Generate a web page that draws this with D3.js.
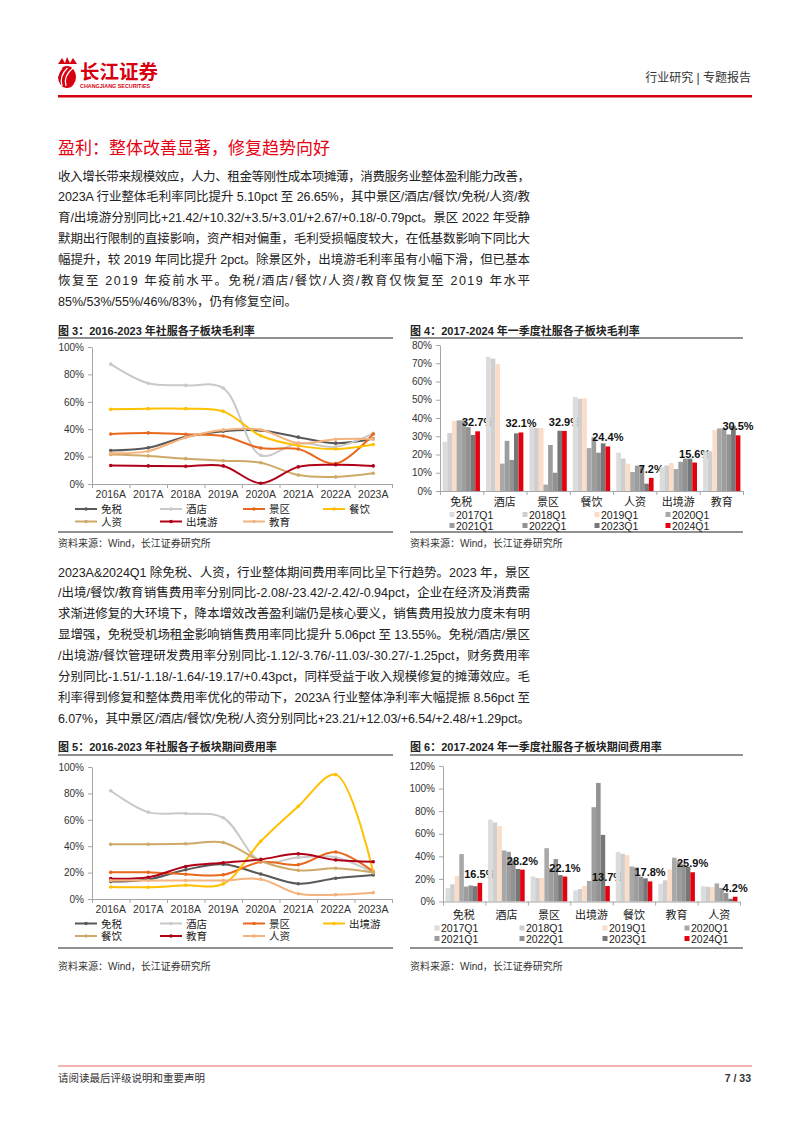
<!DOCTYPE html>
<html><head><meta charset="utf-8">
<script src="https://cdn.jsdelivr.net/npm/d3@7"></script>
<style>
body{margin:0;background:#fff;}
svg{display:block;font-family:"Liberation Sans",Arial,"Noto Sans CJK SC",sans-serif;}
</style></head><body>
<script>
// ---------- DATA ----------
const years = ["2016A","2017A","2018A","2019A","2020A","2021A","2022A","2023A"];

// Fig 3: gross margin (%)
const gmSeriesNames = ["免税","酒店","景区","餐饮","人资","出境游","教育"];
const gmDutyFree = [24.5,26.5,34.5,38.5,39.0,34.2,29.8,33.0];
const gmHotel    = [87.5,73.5,72.0,70.0,21.0,29.8,27.2,37.0];
const gmScenic   = [36.5,37.3,36.3,35.0,26.2,25.5,14.9,36.5];
const gmCatering = [54.5,55.0,55.0,53.0,35.2,28.0,25.5,28.8];
const gmHR       = [21.5,20.5,18.5,17.0,15.5,6.5,5.2,7.8];
const gmOutbound = [13.5,13.2,13.0,13.2,0.5,12.5,14.0,13.2];
const gmEdu      = [22.5,24.0,34.0,39.5,39.6,29.8,32.7,32.9];

// Fig 5: period expense ratio (%)
const exSeriesNames = ["免税","酒店","景区","出境游","餐饮","教育","人资"];
const exDutyFree = [13.2,14.8,22.2,26.3,18.9,11.6,15.7,18.2];
const exHotel    = [82.0,65.8,64.8,61.5,28.5,31.5,31.5,20.0];
const exScenic   = [20.2,20.2,18.7,18.3,28.0,26.0,35.6,20.8];
const exOutbound = [9.1,8.9,10.4,11.4,43.7,70.2,94.2,20.2];
const exCatering = [41.5,41.5,41.8,42.8,28.8,21.7,23.3,20.0];
const exEdu      = [15.4,16.4,24.6,27.5,30.0,34.2,29.5,28.2];
const exHR       = [14.0,14.0,14.0,14.0,15.0,4.0,3.3,4.8];

// Fig 4: Q1 gross margin (%)
const quarters = ["2017Q1","2018Q1","2019Q1","2020Q1","2021Q1","2022Q1","2023Q1","2024Q1"];
const gmQCats = ["免税","酒店","景区","餐饮","人资","出境游","教育"];
const gmQ17 = [27.0,73.5,35.0,51.5,21.0,13.0,21.5];
const gmQ18 = [31.8,72.5,34.5,50.5,17.8,14.0,21.8];
const gmQ19 = [38.3,69.5,34.5,50.8,15.0,15.3,33.5];
const gmQ20 = [38.7,15.0,3.5,23.5,10.4,12.0,34.3];
const gmQ21 = [38.7,27.5,25.2,29.5,13.9,16.0,34.3];
const gmQ22 = [35.0,17.0,10.0,21.0,13.9,17.7,31.0];
const gmQ23 = [30.7,31.6,33.0,26.1,4.0,17.7,35.8];
const gmQ24 = [32.7,32.1,32.9,24.4,7.2,15.6,30.5];

// Fig 6: Q1 period expense ratio (%)
const exQCats = ["免税","酒店","景区","出境游","餐饮","教育","人资"];
const exQ17 = [11.8,72.5,22.3,9.8,43.8,15.7,13.6];
const exQ18 = [15.2,70.0,20.8,11.0,42.2,18.8,13.0];
const exQ19 = [22.5,66.8,20.8,13.8,41.2,28.4,12.8];
const exQ20 = [42.0,45.2,47.2,18.2,31.0,38.8,16.0];
const exQ21 = [13.2,44.0,29.5,83.5,30.2,35.5,12.0];
const exQ22 = [14.2,36.5,37.6,105.0,22.0,33.0,7.6];
const exQ23 = [13.5,28.8,23.4,59.0,20.5,30.8,2.4];
const exQ24 = [16.5,28.2,22.1,13.7,17.8,25.9,4.2];

// ---------- STYLE ----------
const lineColors = ["#595959","#c9c9c9","#e8681e","#ffc000","#cfa968","#b00018","#f5b27c"];
const barColors  = ["#dcdcdc","#cfcfcf","#fbdcc6","#a8a8a8","#9d9d9d","#929292","#777777","#e3000f"];
const RED = "#e60012";
const TXT = "#222";

const svg = d3.select("body").append("svg").attr("width",802).attr("height",1133);

// ---------- HEADER ----------
const logo = svg.append("g");
logo.append("ellipse").attr("cx",67).attr("cy",77).attr("rx",9).attr("ry",11).attr("fill","#d7000f");
[[-5,2],[-1,5],[3,8]].forEach(([dx,r])=>{
  logo.append("path").attr("d",`M${63+dx},${86} Q${60+dx},${76} ${66+dx+r/2},${68}`)
    .attr("fill","none").attr("stroke","#fff").attr("stroke-width",1.3);
});
logo.append("path").attr("d","M58,64 L62,58 L65,63 L67,57 L70,63 L73,58 L77,64 Z").attr("fill","#d7000f");
logo.append("text").attr("x",80).attr("y",79).attr("font-size",19.5).attr("font-weight","bold")
  .attr("fill","#d7000f").attr("font-family","Noto Sans CJK SC").text("长江证券");
logo.append("text").attr("x",80).attr("y",88).attr("font-size",5.4).attr("font-weight","bold")
  .attr("fill","#d7000f").text("CHANGJIANG SECURITIES");
svg.append("text").attr("x",751).attr("y",82).attr("text-anchor","end").attr("font-size",12)
  .attr("fill","#333").text("行业研究 | 专题报告");
svg.append("rect").attr("x",58).attr("y",95).attr("width",694).attr("height",2.5).attr("fill","#d7000f");

// ---------- TEXT ----------
svg.append("text").attr("x",58).attr("y",154).attr("font-size",17).attr("fill",RED)
  .text("盈利：整体改善显著，修复趋势向好");

function para(lines, y0, lastFull){
  lines.forEach((t,i)=>{
    const el = svg.append("text").attr("x",58).attr("y",y0+i*20.9).attr("font-size",12.5).attr("fill",TXT).text(t);
    if(i<lines.length-1 || lastFull) el.attr("textLength",472).attr("lengthAdjust","spacing");
  });
}
para([
 "收入增长带来规模效应，人力、租金等刚性成本项摊薄，消费服务业整体盈利能力改善，",
 "2023A 行业整体毛利率同比提升 5.10pct 至 26.65%，其中景区/酒店/餐饮/免税/人资/教",
 "育/出境游分别同比+21.42/+10.32/+3.5/+3.01/+2.67/+0.18/-0.79pct。景区 2022 年受静",
 "默期出行限制的直接影响，资产相对偏重，毛利受损幅度较大，在低基数影响下同比大",
 "幅提升，较 2019 年同比提升 2pct。除景区外，出境游毛利率虽有小幅下滑，但已基本",
 "恢复至 2019 年疫前水平。免税/酒店/餐饮/人资/教育仅恢复至 2019 年水平",
 "85%/53%/55%/46%/83%，仍有修复空间。"
],180.5,false);
para([
 "2023A&2024Q1 除免税、人资，行业整体期间费用率同比呈下行趋势。2023 年，景区",
 "/出境/餐饮/教育销售费用率分别同比-2.08/-23.42/-2.42/-0.94pct，企业在经济及消费需",
 "求渐进修复的大环境下，降本增效改善盈利端仍是核心要义，销售费用投放力度未有明",
 "显增强，免税受机场租金影响销售费用率同比提升 5.06pct 至 13.55%。免税/酒店/景区",
 "/出境游/餐饮管理研发费用率分别同比-1.12/-3.76/-11.03/-30.27/-1.25pct，财务费用率",
 "分别同比-1.51/-1.18/-1.64/-19.17/+0.43pct，同样受益于收入规模修复的摊薄效应。毛",
 "利率得到修复和整体费用率优化的带动下，2023A 行业整体净利率大幅提振 8.56pct 至",
 "6.07%，其中景区/酒店/餐饮/免税/人资分别同比+23.21/+12.03/+6.54/+2.48/+1.29pct。"
],576.5,true);

// ---------- FIGURE FRAMES ----------
function frame(x0,x1,title,yTitle,yLine,yBottom,ySrc){
  svg.append("text").attr("x",x0).attr("y",yTitle).attr("font-size",11).attr("font-weight","bold")
    .attr("fill",TXT).text(title);
  svg.append("line").attr("x1",x0).attr("x2",x1).attr("y1",yLine).attr("y2",yLine).attr("stroke","#6b6b6b").attr("stroke-width",1.3);
  svg.append("line").attr("x1",x0).attr("x2",x1).attr("y1",yBottom).attr("y2",yBottom).attr("stroke","#6b6b6b").attr("stroke-width",1.3);
  svg.append("text").attr("x",x0).attr("y",ySrc).attr("font-size",10).attr("fill","#333").text("资料来源：Wind，长江证券研究所");
}
frame(58,393,"图 3：2016-2023 年社服各子板块毛利率",335,338,532,547);
frame(410,743,"图 4：2017-2024 年一季度社服各子板块毛利率",335,338,532,547);
frame(58,393,"图 5：2016-2023 年社服各子板块期间费用率",751,755,948,970);
frame(410,743,"图 6：2017-2024 年一季度社服各子板块期间费用率",751,755,948,970);

function styleAxis(a){
  a.attr("font-family",null).attr("font-size",null);
  a.selectAll(".domain,.tick line").attr("stroke","#a6a6a6");
  a.selectAll("text").attr("fill","#333").attr("font-size",10);
}

// ---------- LINE CHART ----------
function lineChart(cfg){
  const g = svg.append("g");
  const x = d3.scaleBand().domain(cfg.cats).range([cfg.x0,cfg.x1]);
  const y = d3.scaleLinear().domain([0,cfg.max]).range([cfg.yb,cfg.yt]);
  g.append("g").attr("transform",`translate(${cfg.x0},0)`)
    .call(d3.axisLeft(y).tickValues(d3.range(0,cfg.max+0.1,cfg.step)).tickFormat(d=>d+"%").tickSize(4).tickSizeOuter(0).tickPadding(4))
    .call(styleAxis);
  const xb = d3.scaleLinear().domain([0,cfg.cats.length]).range([cfg.x0,cfg.x1]);
  g.append("g").attr("transform",`translate(0,${cfg.yb})`)
    .call(d3.axisBottom(xb).ticks(cfg.cats.length).tickFormat("").tickSize(4).tickSizeOuter(0)).call(styleAxis);
  g.append("g").attr("transform",`translate(0,${cfg.yb})`)
    .call(d3.axisBottom(x).tickSize(0).tickPadding(7)).call(styleAxis)
    .call(a=>{a.select(".domain").remove(); a.selectAll("text").attr("font-size",10.5);});
  const line = d3.line().x(d=>x(d.c)+x.bandwidth()/2).y(d=>y(d.v)).curve(d3.curveCatmullRom.alpha(0.5));
  cfg.series.forEach((s,i)=>{
    const data = s.values.map((v,j)=>({c:cfg.cats[j],v}));
    g.append("path").datum(data).attr("d",line).attr("fill","none").attr("stroke",lineColors[i]).attr("stroke-width",2);
    g.selectAll(null).data(data).enter().append("circle")
      .attr("cx",d=>x(d.c)+x.bandwidth()/2).attr("cy",d=>y(d.v)).attr("r",1.8).attr("fill",lineColors[i]);
  });
  // legend
  cfg.series.forEach((s,i)=>{
    const col = i%4, row = Math.floor(i/4);
    const lx = cfg.legX[col], ly = cfg.legY[row];
    g.append("line").attr("x1",lx).attr("x2",lx+22).attr("y1",ly).attr("y2",ly).attr("stroke",lineColors[i]).attr("stroke-width",2);
    g.append("circle").attr("cx",lx+11).attr("cy",ly).attr("r",1.8).attr("fill",lineColors[i]);
    g.append("text").attr("x",lx+26).attr("y",ly+4).attr("font-size",10.5).attr("fill",TXT).text(s.name);
  });
}

lineChart({cats:years,x0:92,x1:392,yt:347,yb:484,max:100,step:20,
  legX:[75,160,243,323],legY:[509,521.5],
  series:[gmDutyFree,gmHotel,gmScenic,gmCatering,gmHR,gmOutbound,gmEdu].map((v,i)=>({name:gmSeriesNames[i],values:v}))});
lineChart({cats:years,x0:92,x1:392,yt:767,yb:899,max:100,step:20,
  legX:[75,160,243,323],legY:[923.5,936],
  series:[exDutyFree,exHotel,exScenic,exOutbound,exCatering,exEdu,exHR].map((v,i)=>({name:exSeriesNames[i],values:v}))});

// ---------- BAR CHART ----------
function barChart(cfg){
  const g = svg.append("g");
  const x0 = d3.scaleBand().domain(cfg.cats).range([cfg.x0,cfg.x1]).paddingInner(0.14).paddingOuter(0.06);
  const x1 = d3.scaleBand().domain(quarters).range([0,x0.bandwidth()]);
  const y = d3.scaleLinear().domain([0,cfg.max]).range([cfg.yb,cfg.yt]);
  g.append("g").attr("transform",`translate(${cfg.x0},0)`)
    .call(d3.axisLeft(y).tickValues(d3.range(0,cfg.max+0.1,cfg.step)).tickFormat(d=>d+"%").tickSize(4).tickSizeOuter(0).tickPadding(4))
    .call(styleAxis);
  const data = cfg.cats.map((c,ci)=>({c, vals: cfg.series.map((s,si)=>({q:quarters[si],v:s[ci]}))}));
  const grp = g.selectAll(null).data(data).enter().append("g").attr("transform",d=>`translate(${x0(d.c)},0)`);
  grp.selectAll("rect").data(d=>d.vals).enter().append("rect")
    .attr("x",d=>x1(d.q)).attr("width",x1.bandwidth()).attr("y",d=>y(d.v)).attr("height",d=>cfg.yb-y(d.v))
    .attr("fill",(d,i)=>barColors[i]);
  grp.append("text").attr("x",x1("2024Q1")+x1.bandwidth()/2).attr("y",d=>y(d.vals[7].v)-5)
    .attr("text-anchor","middle").attr("font-size",11).attr("font-weight","bold").attr("fill","#111")
    .text(d=>d.vals[7].v.toFixed(1)+"%");
  const xb = d3.scaleLinear().domain([0,cfg.cats.length]).range([cfg.x0,cfg.x1]);
  g.append("g").attr("transform",`translate(0,${cfg.yb})`)
    .call(d3.axisBottom(xb).ticks(cfg.cats.length).tickFormat("").tickSize(4).tickSizeOuter(0)).call(styleAxis);
  g.append("g").attr("transform",`translate(0,${cfg.yb})`)
    .call(d3.axisBottom(x0).tickSize(0).tickPadding(cfg.catPad)).call(styleAxis)
    .call(a=>{a.select(".domain").remove(); a.selectAll("text").attr("font-size",11).attr("fill",TXT);});
  quarters.forEach((q,i)=>{
    const col=i%4,row=Math.floor(i/4);
    const lx=cfg.legX[col], ly=cfg.legY[row];
    g.append("rect").attr("x",lx-2.5).attr("y",ly-2.5).attr("width",5).attr("height",5).attr("fill",barColors[i]);
    g.append("text").attr("x",lx+4).attr("y",ly+4).attr("font-size",10.5).attr("fill",TXT).text(q);
  });
}
barChart({cats:gmQCats,x0:440,x1:743,yt:345,yb:491,max:80,step:10,catPad:7,
  legX:[452,525,597,668],legY:[514.5,525.5],
  series:[gmQ17,gmQ18,gmQ19,gmQ20,gmQ21,gmQ22,gmQ23,gmQ24]});
barChart({cats:exQCats,x0:443,x1:740,yt:766,yb:901.5,max:120,step:20,catPad:9.5,
  legX:[437,522,605,687],legY:[928,938.5],
  series:[exQ17,exQ18,exQ19,exQ20,exQ21,exQ22,exQ23,exQ24]});

// ---------- FOOTER ----------
svg.append("rect").attr("x",58).attr("y",1065).attr("width",694).attr("height",2).attr("fill","#f2b3b3");
svg.append("text").attr("x",58).attr("y",1082).attr("font-size",10.5).attr("fill","#333").text("请阅读最后评级说明和重要声明");
svg.append("text").attr("x",751).attr("y",1082).attr("text-anchor","end").attr("font-size",10.5).attr("font-weight","bold").attr("fill","#333").text("7 / 33");
</script></body></html>
